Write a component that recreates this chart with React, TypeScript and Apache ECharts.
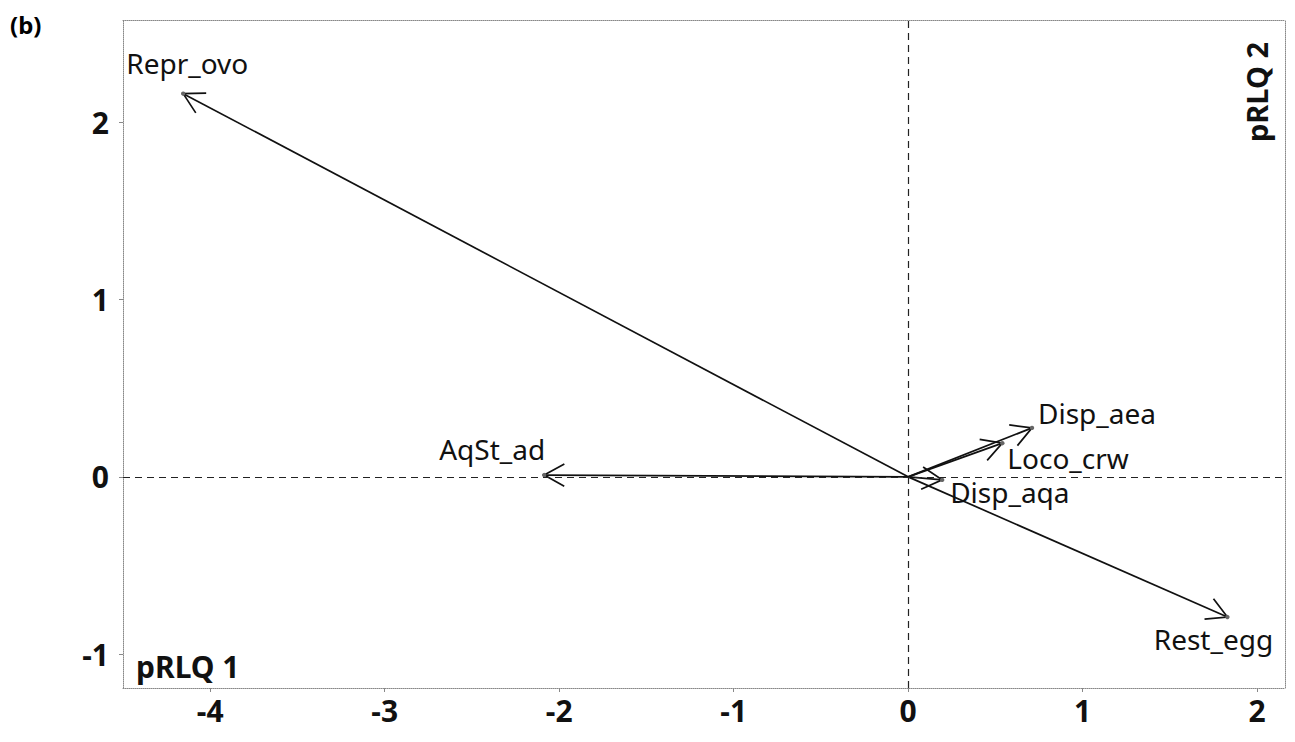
import React, { useEffect, useRef } from "react";
import * as echarts from "echarts";

const traits = ["Repr_ovo", "AqSt_ad", "Disp_aea", "Loco_crw", "Disp_aqa", "Rest_egg"];
const axis1 = [-4.155, -2.086, 0.71, 0.54, 0.195, 1.83];
const axis2 = [2.16, 0.01, 0.276, 0.19, -0.017, -0.79];
const xTicks = [-4, -3, -2, -1, 0, 1, 2];
const yTicks = [-1, 0, 1, 2];

// label placement (pixel offsets from arrow tip), align
const labelPlacement: Record<string, [number, number, string]> = {
  Repr_ovo: [4, -31, "center"],
  AqSt_ad: [1, -26, "right"],
  Disp_aea: [6, -15, "left"],
  Loco_crw: [5, 15, "left"],
  Disp_aqa: [8, 12, "left"],
  Rest_egg: [-14, 22, "center"],
};

const FONT = "'Noto Sans', 'Open Sans', sans-serif";

export default function App() {
  const ref = useRef<HTMLDivElement>(null);
  useEffect(() => {
    if (!ref.current) return;
    const chart = echarts.init(ref.current, null, { renderer: "svg" });
    const data = traits.map((t, i) => [axis1[i], axis2[i], t]);
    const frameLine = { show: true, onZero: false, lineStyle: { color: "#888", width: 1, type: "dotted" as const } };
    const tickLabel = {
      fontSize: 30,
      fontWeight: "bold",
      color: "#111",
      fontFamily: FONT,
    };
    chart.setOption({
      animation: false,
      backgroundColor: "#fff",
      grid: { left: 115, right: 2, top: 12, bottom: 46 },
      xAxis: [
        {
          type: "value",
          min: -4.5,
          max: 2.16,
          axisLine: frameLine,
          splitLine: { show: false },
          axisTick: { show: true, customValues: xTicks, length: 4, lineStyle: { color: "#888" } },
          axisLabel: { ...tickLabel, customValues: xTicks, margin: 7 },
        },
        {
          type: "value",
          position: "top",
          min: -4.5,
          max: 2.16,
          axisLine: frameLine,
          splitLine: { show: false },
          axisTick: { show: false },
          axisLabel: { show: false },
        },
      ],
      yAxis: [
        {
          type: "value",
          min: -1.19,
          max: 2.575,
          axisLine: frameLine,
          splitLine: { show: false },
          axisTick: { show: true, customValues: yTicks, length: 4, lineStyle: { color: "#888" } },
          axisLabel: { ...tickLabel, customValues: yTicks, margin: 14 },
        },
        {
          type: "value",
          position: "right",
          min: -1.19,
          max: 2.575,
          axisLine: frameLine,
          splitLine: { show: false },
          axisTick: { show: false },
          axisLabel: { show: false },
        },
      ],
      graphic: [
        {
          type: "text",
          left: 2,
          top: 4,
          style: { text: "(b)", fontSize: 24, fontWeight: "bold", fill: "#000", fontFamily: FONT },
        },
        {
          type: "text",
          left: 128,
          top: 643,
          style: { text: "pRLQ 1", fontSize: 30, fontWeight: "bold", fill: "#111", fontFamily: FONT },
        },
        {
          type: "text",
          x: 1248,
          y: 134,
          rotation: Math.PI / 2,
          style: {
            text: "pRLQ 2",
            fontSize: 29,
            fontWeight: "bold",
            fill: "#111",
            fontFamily: FONT,
            align: "left",
            verticalAlign: "middle",
          },
        },
      ],
      series: [
        {
          type: "custom",
          data,
          renderItem: (params: any, api: any) => {
            const x = api.value(0);
            const y = api.value(1);
            const name = traits[params.dataIndex];
            const o = api.coord([0, 0]);
            const p = api.coord([x, y]);
            const a = Math.atan2(p[1] - o[1], p[0] - o[0]);
            const L = 23;
            const ha = (29 * Math.PI) / 180;
            const h1 = [p[0] - L * Math.cos(a - ha), p[1] - L * Math.sin(a - ha)];
            const h2 = [p[0] - L * Math.cos(a + ha), p[1] - L * Math.sin(a + ha)];
            const pl = labelPlacement[name];
            return {
              type: "group",
              children: [
                {
                  type: "line",
                  shape: { x1: o[0], y1: o[1], x2: p[0], y2: p[1] },
                  style: { stroke: "#111", lineWidth: 1.7 },
                },
                {
                  type: "polyline",
                  shape: { points: [h1, p, h2] },
                  style: { stroke: "#111", lineWidth: 1.7, fill: "none" },
                },
                {
                  type: "circle",
                  shape: { cx: p[0], cy: p[1], r: 2.2 },
                  style: { fill: "#666" },
                },
                {
                  type: "text",
                  x: p[0] + pl[0],
                  y: p[1] + pl[1],
                  style: {
                    text: name,
                    fontSize: 28,
                    fill: "#111",
                    fontFamily: FONT,
                    align: pl[2],
                    verticalAlign: "middle",
                  },
                },
              ],
            };
          },
          markLine: {
            silent: true,
            symbol: "none",
            label: { show: false },
            lineStyle: { color: "#222", type: [7, 5], width: 1.2 },
            data: [{ xAxis: 0 }, { yAxis: 0 }],
          },
          z: 3,
        },
      ],
    });
    return () => chart.dispose();
  }, []);
  return <div ref={ref} style={{ width: 1279, height: 726 }} />;
}
